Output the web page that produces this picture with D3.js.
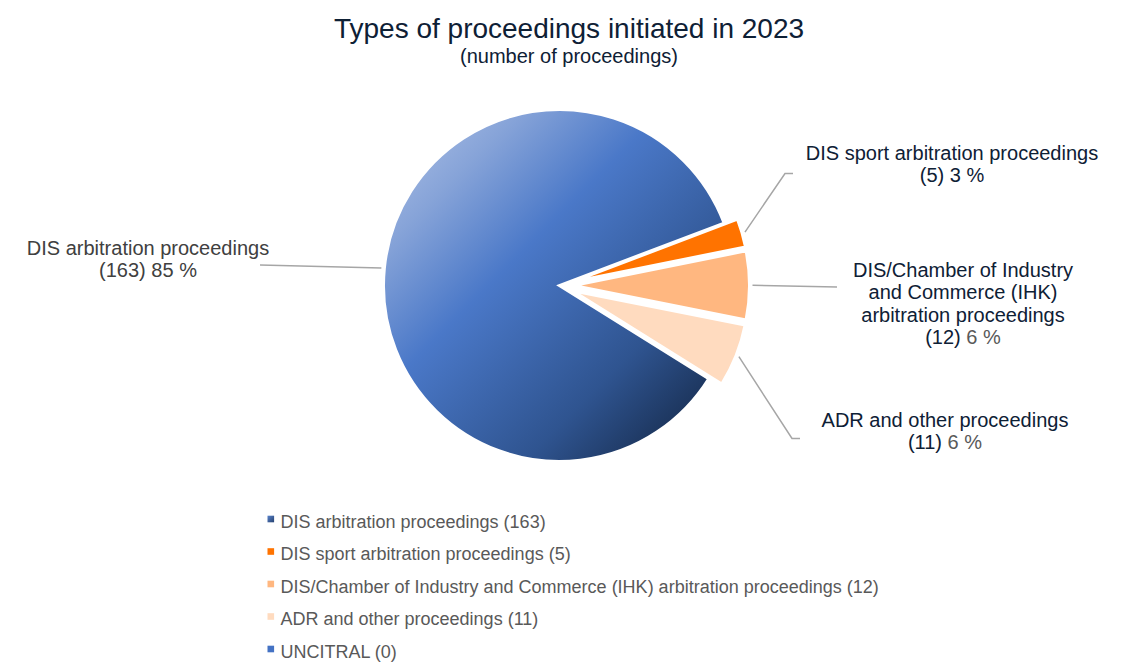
<!DOCTYPE html>
<html>
<head>
<meta charset="utf-8">
<script src="https://cdn.jsdelivr.net/npm/d3@7"></script>
<style>
  html, body { margin: 0; padding: 0; background: #ffffff; }
  svg { display: block; font-family: "Liberation Sans", Arial, sans-serif; }
</style>
</head>
<body>
<svg id="chart" width="1140" height="671"></svg>
<script>
// ---- data ----
const categories = [
  "DIS arbitration proceedings",
  "DIS sport arbitration proceedings",
  "DIS/Chamber of Industry and Commerce (IHK) arbitration proceedings",
  "ADR and other proceedings",
  "UNCITRAL"
];
const values = [163, 5, 12, 11, 0];
const percentLabels = ["85 %", "3 %", "6 %", "6 %", "0 %"];
const labelLines = [
  ["DIS arbitration proceedings"],
  ["DIS sport arbitration proceedings"],
  ["DIS/Chamber of Industry", "and Commerce (IHK)", "arbitration proceedings"],
  ["ADR and other proceedings"],
  []
];
const titleText = "Types of proceedings initiated in 2023";
const subtitleText = "(number of proceedings)";

// ---- styles / layout ----
const colors = ["url(#gradMain)", "#ff7300", "#ffb780", "#ffdbbf", "#4472c4"];
const legendColors = ["url(#gradLegend)", "#ff7300", "#ffb780", "#ffdbbf", "#4472c4"];
const cx = 559.5, cy = 285.5, R = 176, explode = 14;
const startDeg = 122;
const labelLayout = [
  {x: 148, y: 255, pts: [[260, 265]], fill: "#404040", pctFill: "#404040"},
  {x: 952, y: 160, pts: [[785, 173.5], [793, 173.5]], fill: "#0e2035", pctFill: "#0e2035"},
  {x: 963, y: 277, pts: [[837, 287]], fill: "#0e2035", pctFill: "#595959"},
  {x: 945, y: 427, pts: [[792, 438.5], [800, 438.5]], fill: "#0e2035", pctFill: "#595959"},
  null
];
const lineH = 22.3;

const svg = d3.select("#chart");
const defs = svg.append("defs");
const g1 = defs.append("linearGradient").attr("id", "gradMain")
  .attr("gradientUnits", "userSpaceOnUse")
  .attr("x1", -R).attr("y1", -R).attr("x2", R).attr("y2", R);
[[0, "#b4c6e8"], [0.2, "#86a3d8"], [0.4, "#4a78c8"], [0.7, "#2f5490"], [1, "#0c1a30"]]
  .forEach(([o, c]) => g1.append("stop").attr("offset", o).attr("stop-color", c));
const g2 = defs.append("linearGradient").attr("id", "gradLegend")
  .attr("x1", 0).attr("y1", 0).attr("x2", 1).attr("y2", 1);
[[0, "#5a84cc"], [1, "#25406e"]]
  .forEach(([o, c]) => g2.append("stop").attr("offset", o).attr("stop-color", c));

// ---- title ----
svg.append("text").attr("x", 569).attr("y", 38).attr("text-anchor", "middle")
  .attr("font-size", 28).attr("fill", "#0e2035").text(titleText);
svg.append("text").attr("x", 569).attr("y", 63).attr("text-anchor", "middle")
  .attr("font-size", 20).attr("fill", "#0e2035").text(subtitleText);

// ---- pie ----
const pie = d3.pie().sort(null).value(d => d)
  .startAngle(startDeg * Math.PI / 180).endAngle(startDeg * Math.PI / 180 + 2 * Math.PI);
const arcs = pie(values);
const arc = d3.arc().innerRadius(0).outerRadius(R);

function offsetOf(d, i) {
  if (i === 0) return [0, 0];
  const m = (d.startAngle + d.endAngle) / 2;
  return [Math.sin(m) * explode, -Math.cos(m) * explode];
}

const pieG = svg.append("g").attr("transform", `translate(${cx},${cy})`);
pieG.selectAll("path")
  .data(arcs.map((d, i) => ({d, i})).filter(o => o.d.value > 0))
  .join("path")
  .attr("transform", o => { const [dx, dy] = offsetOf(o.d, o.i); return `translate(${dx},${dy})`; })
  .attr("d", o => arc(o.d))
  .attr("fill", o => colors[o.i])
  .attr("stroke", "#ffffff").attr("stroke-width", 3).attr("stroke-linejoin", "miter");

// ---- leader lines & labels ----
arcs.forEach((d, i) => {
  const L = labelLayout[i];
  if (!L || d.value <= 0) return;
  const [dx, dy] = offsetOf(d, i);
  const m = (d.startAngle + d.endAngle) / 2;
  const sx = cx + dx + Math.sin(m) * (R + 3);
  const sy = cy + dy - Math.cos(m) * (R + 3);
  const pts = [[sx, sy]].concat(L.pts);
  svg.append("path").attr("d", d3.line()(pts))
    .attr("fill", "none").attr("stroke", "#a6a6a6").attr("stroke-width", 1.5);
  const lines = labelLines[i];
  const t = svg.append("text").attr("text-anchor", "middle").attr("font-size", 20).attr("fill", L.fill);
  lines.forEach((ln, k) => {
    t.append("tspan").attr("x", L.x).attr("y", L.y + k * lineH).text(ln);
  });
  const last = t.append("tspan").attr("x", L.x).attr("y", L.y + lines.length * lineH);
  last.append("tspan").text(`(${values[i]}) `);
  last.append("tspan").attr("fill", L.pctFill).text(percentLabels[i]);
});

// ---- legend ----
const legG = svg.append("g");
categories.forEach((c, i) => {
  const y = 519 + i * 32.5;
  legG.append("rect").attr("x", 267.5).attr("y", y - 3.3).attr("width", 6.6).attr("height", 6.6)
    .attr("fill", legendColors[i]);
  legG.append("text").attr("x", 280.5).attr("y", y + 8.6).attr("font-size", 18)
    .attr("fill", "#595959").text(`${c} (${values[i]})`);
});
</script>
</body>
</html>
